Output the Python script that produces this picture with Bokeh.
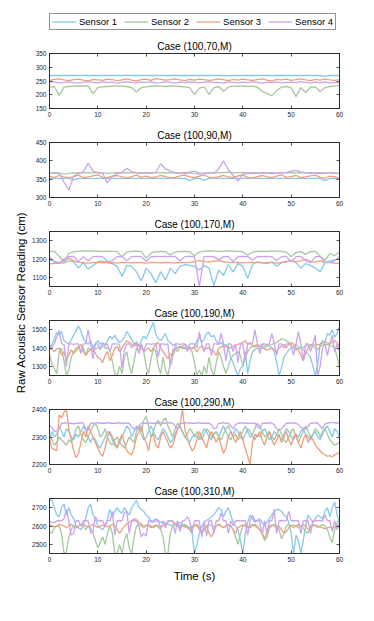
import math
from bokeh.plotting import figure
from bokeh.layouts import row, column
from bokeh.models import Range1d, Legend, LegendItem, Label, FixedTicker, LinearAxis
from bokeh.embed import file_html
from bokeh.resources import INLINE

SENSORS = ["Sensor 1", "Sensor 2", "Sensor 3", "Sensor 4"]
COLORS = ["#87c8eb", "#a6c8a0", "#eea07d", "#c8a5ee"]
CASES = ["Case (100,70,M)", "Case (100,90,M)", "Case (100,170,M)",
         "Case (100,190,M)", "Case (100,290,M)", "Case (100,310,M)"]
Y_RANGES = [(150, 350), (300, 450), (1050, 1350), (1250, 1550), (2200, 2400), (2450, 2750)]
Y_TICKS = [[150, 200, 250, 300, 350], [300, 350, 400, 450], [1100, 1200, 1300],
           [1300, 1400, 1500], [2200, 2300, 2400], [2500, 2600, 2700]]
X_TICKS = [0, 10, 20, 30, 40, 50, 60]
STEPS = [1, 1, 1, 0.5, 0.5, 0.5]   # sampling step (s) of each panel's series
X_LABEL = "Time (s)"
Y_LABEL = "Raw Acoustic Sensor Reading (cm)"

# ---- Case (100,70,M) ----
P1_S1 = [270,270,270,270,270,270,270,270,270,270,
         270,270,270,270,270,270,270,270,270,270,
         270,270,270,270,270,270,270,270,270,270,
         270,270,270,270,270,270,270,269,270,270,
         270,270,270,270,270,270,270,270,270,270,
         270,270,270,270,270,270,270,267,270,270,
         270]
P1_S2 = [228,230,198,228,230,231,232,231,232,204,
         226,229,230,231,232,231,230,226,210,226,
         229,231,232,231,230,232,231,230,229,226,
         200,224,229,201,225,230,212,228,231,232,
         231,230,231,228,212,205,196,215,228,230,
         226,193,226,208,228,229,211,226,230,232,
         233]
P1_S3 = [252,256,258,254,251,255,257,253,250,256,
         254,252,257,255,251,254,258,253,250,255,
         257,252,259,256,253,255,258,254,251,256,
         253,257,255,252,254,258,255,251,256,253,
         257,254,252,255,258,253,250,256,254,257,
         252,255,258,254,251,256,253,257,254,252,
         255]
P1_S4 = [249,246,243,245,247,244,242,246,248,245,
         243,247,244,246,242,245,248,244,243,246,
         245,247,243,244,248,245,242,246,244,247,
         245,243,246,248,244,245,242,247,245,243,
         246,244,248,245,242,246,244,247,243,245,
         246,244,248,245,242,246,244,247,243,245,
         242]

# ---- Case (100,90,M) ----
P2_S1 = [352,352,352,352,352,348,352,352,352,352,
         352,352,352,352,352,352,352,352,352,352,
         352,352,352,352,352,352,352,352,352,346,
         352,352,347,352,352,352,352,352,352,352,
         352,352,352,352,352,352,352,352,352,352,
         352,352,352,352,352,352,352,346,352,352,
         352]
P2_S2 = [366,368,367,364,366,367,368,367,368,367,
         368,367,366,367,368,367,368,367,368,367,
         368,367,368,367,368,367,368,367,368,369,
         372,367,366,367,368,367,368,369,368,367,
         368,367,368,367,368,367,368,367,368,367,
         368,367,368,367,368,367,368,367,368,367,
         366]
P2_S3 = [358,355,360,356,353,357,361,354,356,359,
         362,355,354,358,360,356,353,357,361,355,
         358,354,356,360,357,353,355,359,361,356,
         354,358,362,355,353,357,360,356,354,359,
         361,355,353,357,360,356,354,358,362,355,
         357,360,354,356,359,361,355,353,358,357,
         352]
P2_S4 = [368,366,365,342,320,358,366,370,394,372,
         368,366,340,358,365,368,380,370,368,366,
         367,366,369,392,378,372,367,366,365,367,
         366,364,366,367,366,378,400,376,360,345,
         363,366,365,366,367,366,365,366,367,368,
         372,374,370,367,366,367,365,366,368,366,
         365]

# ---- Case (100,170,M) ----
P3_S1 = [1195,1188,1180,1178,1190,1185,1150,1180,1145,1165,
         1185,1188,1180,1175,1160,1105,1165,1160,1130,1080,
         1150,1120,1070,1130,1085,1150,1120,1160,1170,1165,
         1160,1140,1165,1150,1055,1140,1110,1170,1130,1175,
         1160,1095,1170,1185,1180,1175,1185,1160,1180,1185,
         1190,1180,1150,1175,1165,1150,1130,1180,1190,1195,
         1200]
P3_S2 = [1240,1242,1215,1185,1230,1240,1243,1244,1243,1244,
         1243,1242,1243,1242,1240,1212,1238,1242,1243,1240,
         1205,1232,1240,1242,1240,1222,1238,1241,1242,1240,
         1218,1238,1243,1244,1243,1242,1243,1244,1243,1242,
         1240,1220,1238,1242,1243,1242,1244,1243,1242,1238,
         1212,1236,1240,1225,1240,1242,1215,1192,1230,1218,
         1238]
P3_S3 = [1172,1178,1176,1185,1205,1190,1182,1180,1178,1180,
         1182,1179,1181,1180,1178,1182,1180,1179,1181,1180,
         1178,1182,1180,1179,1181,1180,1178,1181,1180,1182,
         1185,1193,1186,1184,1188,1191,1185,1182,1180,1181,
         1179,1180,1182,1180,1179,1181,1180,1178,1182,1185,
         1192,1184,1190,1200,1186,1183,1190,1182,1180,1178,
         1176]
P3_S4 = [1212,1182,1180,1200,1213,1214,1186,1213,1190,1213,
         1214,1213,1186,1190,1213,1214,1190,1213,1214,1213,
         1188,1213,1214,1213,1214,1213,1214,1190,1213,1214,
         1213,1050,1213,1214,1213,1195,1213,1214,1185,1213,
         1214,1213,1195,1214,1213,1214,1213,1190,1213,1214,
         1185,1213,1214,1190,1180,1213,1214,1180,1182,1190,
         1212]

# ---- Case (100,190,M) ----
P4_S1 = [1390,1420,1450,1485,1470,1490,1440,1430,1420,1445,
         1470,1495,1520,1490,1455,1430,1420,1440,1400,1425,
         1440,1420,1430,1410,1440,1465,1450,1470,1445,1430,
         1440,1460,1490,1470,1445,1420,1435,1410,1440,1465,
         1450,1480,1510,1540,1475,1450,1440,1460,1480,1440,
         1430,1415,1420,1400,1410,1395,1400,1390,1405,1395,
         1410,1440,1460,1430,1450,1480,1485,1460,1470,1440,
         1420,1430,1415,1420,1400,1350,1320,1280,1250,1290,
         1300,1380,1260,1330,1380,1390,1400,1395,1410,1400,
         1420,1410,1400,1380,1320,1250,1290,1350,1370,1390,
         1400,1410,1420,1405,1400,1390,1380,1365,1350,1300,
         1250,1310,1420,1440,1430,1480,1470,1500,1460,1480,
         1520]
P4_S2 = [1370,1310,1290,1260,1380,1400,1330,1250,1280,1350,
         1380,1400,1410,1380,1400,1360,1400,1390,1380,1395,
         1400,1405,1410,1400,1400,1390,1330,1260,1250,1300,
         1260,1350,1380,1300,1260,1330,1400,1380,1420,1380,
         1300,1260,1340,1400,1380,1300,1260,1350,1280,1250,
         1320,1390,1400,1380,1400,1410,1420,1410,1400,1380,
         1320,1250,1280,1250,1300,1260,1350,1280,1250,1320,
         1380,1350,1300,1260,1300,1340,1360,1370,1380,1360,
         1300,1350,1380,1400,1410,1405,1410,1415,1420,1415,
         1410,1415,1420,1425,1430,1440,1450,1445,1440,1430,
         1410,1400,1390,1395,1400,1405,1410,1415,1420,1410,
         1400,1390,1410,1415,1420,1418,1415,1410,1400,1350,
         1300]
P4_S3 = [1400,1390,1380,1395,1400,1360,1380,1340,1360,1390,
         1370,1385,1400,1420,1380,1360,1380,1390,1400,1370,
         1350,1340,1320,1360,1380,1330,1360,1400,1410,1380,
         1400,1420,1440,1430,1420,1410,1420,1410,1400,1380,
         1390,1400,1380,1400,1420,1430,1400,1380,1360,1340,
         1370,1360,1390,1400,1410,1405,1400,1398,1395,1400,
         1400,1380,1400,1410,1395,1398,1400,1390,1380,1360,
         1400,1405,1410,1407,1405,1400,1410,1415,1420,1425,
         1430,1440,1420,1430,1410,1415,1420,1410,1400,1395,
         1390,1395,1400,1390,1380,1400,1410,1420,1400,1420,
         1430,1420,1400,1390,1360,1330,1370,1400,1410,1420,
         1415,1418,1420,1425,1430,1428,1425,1432,1440,1430,
         1410]
P4_S4 = [1420,1400,1422,1460,1495,1422,1420,1300,1422,1422,
         1420,1422,1422,1370,1422,1422,1500,1422,1340,1422,
         1422,1390,1422,1422,1420,1380,1422,1422,1422,1420,
         1290,1390,1422,1422,1400,1422,1422,1370,1422,1380,
         1422,1422,1420,1422,1422,1350,1422,1422,1420,1422,
         1300,1350,1422,1422,1420,1422,1422,1380,1422,1422,
         1422,1400,1490,1422,1380,1422,1422,1360,1422,1422,
         1420,1480,1422,1330,1422,1422,1380,1422,1320,1422,
         1422,1330,1422,1422,1422,1500,1422,1370,1422,1422,
         1420,1422,1480,1422,1360,1422,1422,1400,1422,1422,
         1420,1360,1422,1490,1422,1330,1422,1422,1380,1422,
         1470,1250,1300,1400,1422,1360,1422,1470,1380,1422,
         1380]

# ---- Case (100,290,M) ----
P5_S1 = [2290,2320,2300,2310,2340,2320,2300,2330,2320,2300,
         2290,2310,2300,2320,2340,2320,2300,2280,2300,2290,
         2270,2260,2280,2300,2320,2310,2290,2270,2260,2280,
         2300,2320,2340,2330,2300,2320,2340,2330,2310,2290,
         2300,2320,2340,2320,2300,2290,2310,2330,2320,2300,
         2280,2290,2310,2330,2340,2320,2300,2290,2280,2300,
         2310,2300,2290,2310,2330,2320,2300,2290,2310,2320,
         2300,2320,2340,2320,2300,2290,2310,2330,2320,2300,
         2290,2310,2330,2320,2300,2290,2310,2300,2320,2330,
         2310,2290,2300,2320,2310,2300,2290,2310,2330,2320,
         2300,2290,2310,2300,2320,2330,2310,2300,2290,2310,
         2320,2300,2290,2310,2330,2340,2320,2300,2330,2320,
         2300]
P5_S2 = [2310,2290,2270,2280,2300,2290,2280,2270,2290,2280,
         2300,2330,2340,2310,2290,2280,2300,2320,2340,2350,
         2330,2300,2310,2330,2300,2280,2270,2290,2300,2280,
         2270,2260,2280,2300,2290,2280,2320,2340,2320,2360,
         2375,2340,2300,2320,2350,2360,2340,2360,2370,2340,
         2320,2300,2330,2350,2340,2320,2300,2310,2330,2320,
         2300,2320,2300,2290,2310,2330,2320,2300,2310,2320,
         2300,2290,2310,2330,2340,2320,2300,2310,2290,2300,
         2320,2340,2320,2300,2310,2330,2350,2340,2320,2300,
         2310,2320,2300,2290,2310,2330,2310,2290,2280,2300,
         2320,2330,2300,2280,2300,2320,2340,2320,2300,2310,
         2330,2320,2300,2320,2330,2310,2290,2280,2270,2275,
         2280]
P5_S3 = [2295,2258,2255,2250,2380,2370,2390,2400,2330,2290,
         2250,2225,2240,2280,2320,2300,2340,2320,2300,2280,
         2260,2240,2230,2260,2300,2320,2300,2280,2260,2290,
         2310,2280,2250,2240,2235,2260,2300,2320,2340,2300,
         2280,2250,2300,2310,2270,2260,2300,2320,2300,2280,
         2260,2270,2300,2330,2340,2400,2330,2300,2270,2250,
         2260,2290,2320,2300,2280,2260,2300,2320,2300,2280,
         2300,2270,2240,2260,2300,2320,2300,2280,2300,2320,
         2290,2260,2230,2200,2280,2310,2300,2320,2290,2270,
         2300,2320,2290,2270,2290,2310,2280,2300,2320,2290,
         2270,2300,2310,2280,2260,2290,2310,2280,2300,2290,
         2270,2260,2250,2240,2235,2230,2232,2228,2235,2240,
         2242]
P5_S4 = [2345,2335,2320,2322,2330,2350,2350,2352,2350,2350,
         2348,2350,2350,2352,2350,2330,2325,2350,2350,2350,
         2352,2350,2350,2350,2352,2350,2350,2350,2350,2352,
         2350,2350,2350,2350,2335,2330,2330,2340,2350,2350,
         2350,2352,2350,2350,2350,2350,2352,2350,2350,2350,
         2352,2350,2340,2330,2350,2350,2350,2352,2350,2350,
         2350,2350,2352,2350,2350,2350,2350,2345,2330,2332,
         2350,2350,2352,2350,2350,2340,2330,2345,2350,2350,
         2352,2350,2350,2350,2350,2350,2340,2330,2350,2350,
         2350,2352,2350,2345,2330,2325,2330,2340,2350,2350,
         2352,2350,2350,2345,2335,2332,2330,2338,2350,2350,
         2352,2350,2340,2330,2348,2350,2352,2352,2352,2350,
         2352]

# ---- Case (100,310,M) ----
P6_S1 = [2745,2740,2700,2660,2650,2700,2720,2660,2700,2660,
         2640,2600,2590,2580,2610,2640,2700,2720,2660,2640,
         2600,2590,2580,2600,2640,2690,2650,2680,2700,2680,
         2670,2700,2680,2660,2700,2720,2740,2700,2690,2680,
         2660,2650,2620,2630,2640,2630,2620,2625,2615,2610,
         2605,2600,2610,2620,2620,2610,2600,2600,2580,2560,
         2450,2500,2560,2600,2620,2630,2640,2650,2660,2680,
         2700,2690,2650,2680,2700,2660,2620,2600,2580,2520,
         2450,2560,2620,2660,2640,2620,2630,2640,2620,2600,
         2620,2640,2660,2680,2690,2690,2680,2660,2650,2620,
         2560,2450,2550,2520,2450,2520,2600,2660,2640,2620,
         2640,2660,2650,2640,2680,2700,2650,2700,2730,2660,
         2620]
P6_S2 = [2570,2560,2590,2600,2600,2560,2450,2460,2540,2580,
         2600,2590,2600,2610,2600,2580,2600,2590,2560,2520,
         2480,2510,2540,2500,2560,2600,2560,2450,2450,2500,
         2450,2520,2560,2480,2450,2540,2600,2610,2600,2590,
         2600,2610,2600,2590,2600,2595,2580,2540,2450,2450,
         2560,2600,2610,2600,2590,2600,2610,2600,2590,2600,
         2605,2600,2580,2560,2580,2600,2610,2600,2595,2600,
         2610,2600,2590,2600,2610,2600,2580,2540,2500,2560,
         2600,2610,2600,2590,2600,2610,2600,2580,2560,2520,
         2540,2590,2600,2610,2600,2580,2530,2560,2600,2610,
         2600,2590,2600,2610,2600,2590,2570,2560,2600,2610,
         2600,2590,2600,2610,2600,2580,2540,2510,2580,2620,
         2640]
P6_S3 = [2610,2600,2595,2600,2610,2605,2600,2590,2600,2610,
         2600,2590,2600,2605,2610,2600,2595,2600,2610,2600,
         2590,2600,2605,2600,2595,2600,2610,2600,2580,2560,
         2580,2600,2610,2620,2630,2640,2635,2620,2610,2600,
         2605,2600,2590,2600,2605,2600,2595,2600,2610,2620,
         2630,2625,2615,2600,2605,2600,2595,2590,2580,2590,
         2600,2610,2590,2570,2580,2600,2560,2540,2570,2600,
         2610,2600,2590,2600,2605,2600,2580,2560,2590,2600,
         2605,2600,2590,2600,2610,2600,2590,2580,2560,2530,
         2570,2600,2605,2600,2590,2600,2580,2560,2570,2590,
         2600,2605,2600,2590,2600,2610,2600,2580,2590,2600,
         2605,2600,2595,2590,2585,2590,2595,2590,2595,2600,
         2610]
P6_S4 = [2625,2620,2618,2628,2630,2628,2640,2690,2628,2550,
         2560,2628,2630,2600,2628,2630,2628,2560,2570,2650,
         2628,2630,2628,2600,2628,2630,2680,2550,2628,2630,
         2628,2670,2680,2560,2628,2630,2628,2600,2540,2560,
         2545,2628,2630,2620,2628,2630,2580,2628,2590,2628,
         2630,2628,2560,2628,2570,2628,2630,2650,2628,2560,
         2628,2630,2628,2540,2628,2545,2628,2630,2560,2628,
         2630,2670,2628,2630,2560,2628,2600,2628,2630,2628,
         2630,2628,2550,2628,2660,2628,2630,2628,2550,2628,
         2560,2628,2630,2690,2560,2628,2630,2628,2630,2680,
         2628,2630,2628,2630,2560,2628,2630,2628,2560,2628,
         2630,2628,2630,2628,2660,2628,2630,2570,2628,2580,
         2628]

PANELS = [
    [P1_S1, P1_S2, P1_S3, P1_S4],
    [P2_S1, P2_S2, P2_S3, P2_S4],
    [P3_S1, P3_S2, P3_S3, P3_S4],
    [P4_S1, P4_S2, P4_S3, P4_S4],
    [P5_S1, P5_S2, P5_S3, P5_S4],
    [P6_S1, P6_S2, P6_S3, P6_S4],
]

FONT = "Liberation Sans"
AX_COLOR = "#262626"
LW = 1.3
COL_W = 330
LEFT_W = 28
B_LEFT = 21
B_RIGHT = 19


def style_axis(ax, ticks, mirror=False):
    ax.ticker = FixedTicker(ticks=ticks)
    ax.major_tick_in = 3
    ax.major_tick_out = 0
    ax.minor_tick_line_color = None
    ax.axis_line_color = AX_COLOR
    ax.axis_line_width = 0.8
    ax.major_tick_line_color = AX_COLOR
    ax.major_tick_line_width = 0.8
    ax.major_label_text_font = FONT
    if mirror:
        # tick marks only (box-style axes): labels are not painted
        ax.major_label_text_font_size = "1px"
        ax.major_label_text_color = None
        ax.major_label_text_alpha = 0
        ax.major_label_standoff = 0
    else:
        ax.major_label_text_color = AX_COLOR
        ax.major_label_text_font_size = "6.5px"
        ax.major_label_standoff = 3


def make_panel(i, height, bottom):
    p = figure(width=COL_W, height=height,
               x_range=Range1d(0, 60), y_range=Range1d(*Y_RANGES[i]),
               output_backend="svg", toolbar_location=None,
               min_border_left=B_LEFT, min_border_right=B_RIGHT,
               min_border_top=16, min_border_bottom=bottom)
    p.title.text = CASES[i]
    p.title.align = "center"
    p.title.text_font = FONT
    p.title.text_font_size = "10px"
    p.title.text_font_style = "normal"
    p.title.text_color = "#000000"
    p.title.standoff = 4
    p.grid.visible = False
    p.outline_line_color = AX_COLOR
    p.outline_line_width = 0.8
    p.background_fill_color = "white"
    p.border_fill_color = "white"
    step = STEPS[i]
    for vals, c in zip(PANELS[i], COLORS):
        t = [k * step for k in range(len(vals))]
        p.line(t, vals, line_color=c, line_width=LW)
    xa = p.xaxis[0]
    style_axis(xa, X_TICKS)
    style_axis(p.yaxis[0], Y_TICKS[i])
    ra = LinearAxis()
    style_axis(ra, Y_TICKS[i], mirror=True)
    p.add_layout(ra, "right")
    ta = LinearAxis()
    style_axis(ta, X_TICKS, mirror=True)
    p.add_layout(ta, "above")
    return p, xa


panels = []
for i in range(6):
    if i < 5:
        p, _ = make_panel(i, 89, 17)
        panels.append(p)
    else:
        p6, xa = make_panel(i, 112, 40)
        xa.axis_label = X_LABEL
        xa.axis_label_text_font = FONT
        xa.axis_label_text_font_size = "11.5px"
        xa.axis_label_text_font_style = "normal"
        xa.axis_label_text_color = "#000000"
        xa.axis_label_standoff = 5
        panels.append(p6)

# legend strip: its lines carry the first case's data but lie outside its view
lf = figure(width=COL_W, height=36, x_range=Range1d(0, 60), y_range=Range1d(0, 1),
            output_backend="svg", toolbar_location=None,
            x_axis_location=None, y_axis_location=None,
            min_border_left=B_LEFT, min_border_right=B_RIGHT,
            min_border_top=13, min_border_bottom=0)
lf.outline_line_color = None
lf.grid.visible = False
rends = []
for vals, c in zip(PANELS[0], COLORS):
    t = [k * STEPS[0] for k in range(len(vals))]
    rends.append(lf.line(t, vals, line_color=c, line_width=LW))
leg = Legend(items=[LegendItem(label=s, renderers=[r]) for s, r in zip(SENSORS, rends)],
             orientation="horizontal", location="top_left")
leg.margin = 0
leg.padding = 2
leg.spacing = 7
leg.glyph_width = 24
leg.glyph_height = 9
leg.label_height = 9
leg.label_standoff = 3
leg.label_text_font = FONT
leg.label_text_font_size = "9.5px"
leg.label_text_color = "#000000"
leg.border_line_color = AX_COLOR
leg.border_line_width = 0.8
leg.background_fill_color = "white"
leg.background_fill_alpha = 1.0
lf.add_layout(leg)

total_h = 36 + 5 * 89 + 112
yl = figure(width=LEFT_W, height=total_h, x_range=Range1d(0, LEFT_W), y_range=Range1d(0, total_h),
            output_backend="svg", toolbar_location=None,
            x_axis_location=None, y_axis_location=None,
            min_border_left=0, min_border_right=0, min_border_top=0, min_border_bottom=0)
yl.outline_line_color = None
yl.grid.visible = False
yl.add_layout(Label(x=20, y=total_h - 302, text=Y_LABEL, angle=math.pi / 2,
                    text_align="center", text_baseline="middle",
                    text_font=FONT, text_font_size="11.5px", text_color="#000000"))

layout = row(yl, column(lf, *panels))

with open("out.html", "w") as f:
    f.write(file_html(layout, INLINE))
